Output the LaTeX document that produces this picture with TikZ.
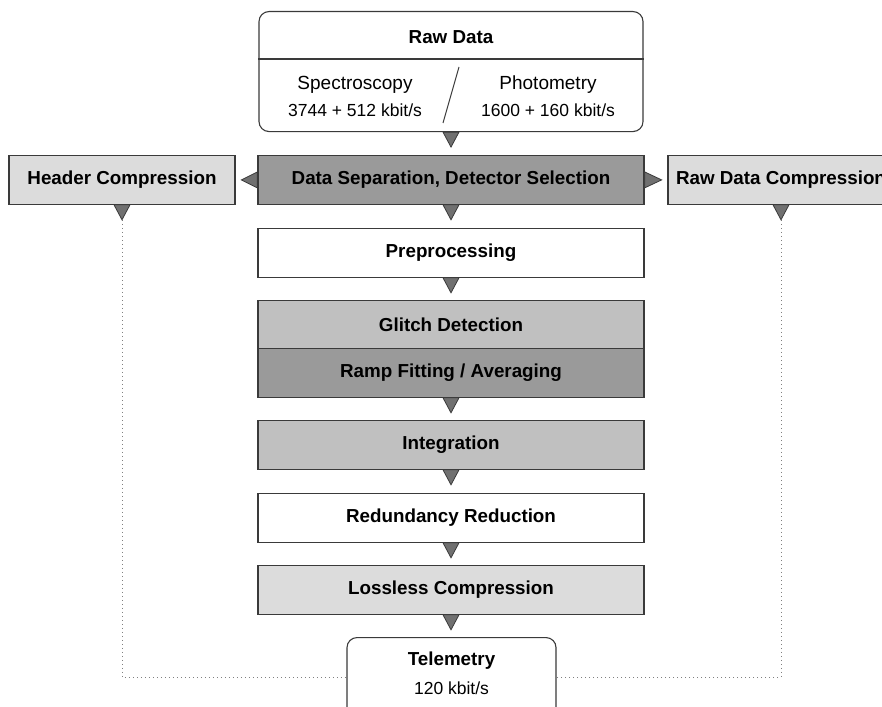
\documentclass[tikz,border=0pt]{standalone}
\usepackage{fontspec}
\setmainfont{Liberation Sans}
\usetikzlibrary{calc}
\definecolor{dk}{HTML}{9A9A9A}
\definecolor{md}{HTML}{C0C0C0}
\definecolor{lt}{HTML}{DCDCDC}
\definecolor{edgec}{HTML}{3A3A3A}
\definecolor{trif}{HTML}{707070}
\definecolor{dotc}{HTML}{808080}
\newcommand\downtri[1]{\filldraw[trishape] ($(#1)+(-8,0)$) -- ($(#1)+(8,0)$) -- ($(#1)+(0,15)$) -- cycle;}
\begin{document}
\begin{tikzpicture}[x=1pt,y=-1pt,
  stepbox/.style={draw=edgec, line width=1.3pt, minimum width=386pt, minimum height=48.5pt,
    inner sep=0pt, anchor=north, font=\bfseries\fontsize{18.8}{20}\selectfont},
  sidebox/.style={stepbox, fill=lt, minimum width=226pt},
  roundbox/.style={draw=edgec, line width=1.1pt, rounded corners=10pt, anchor=north, inner sep=0pt},
  btxt/.style={font=\bfseries\fontsize{18.8}{20}\selectfont, inner sep=0pt},
  ntxt/.style={font=\fontsize{19}{20}\selectfont, inner sep=0pt},
  rtxt/.style={font=\fontsize{17.5}{20}\selectfont, inner sep=0pt},
  trishape/.style={fill=trif, draw=edgec, line width=0.8pt, line join=miter},
  dotline/.style={draw=dotc, line width=1pt, dash pattern=on 1pt off 3pt}]
\useasboundingbox (0,0) rectangle (882,706);

% Raw data box
\node[roundbox, minimum width=384pt, minimum height=120pt] (raw) at (451,11) {};
\draw[draw=edgec, line width=1.1pt] (raw.west |- 0,59) coordinate (dl) -- (raw.east |- 0,59) coordinate (dr);
\node[btxt] (rawt) at (451,37) {Raw Data};
\node[ntxt] (spec) at (355,85) {Spectroscopy};
\node[rtxt] (specr) at (355,110) {3744 + 512 kbit/s};
\node[ntxt] (phot) at (548,85) {Photometry};
\node[rtxt] (photr) at (548,110) {1600 + 160 kbit/s};
\coordinate (sla) at (459,67);
\coordinate (slb) at (443,123);
\draw[draw=edgec, line width=1pt] (sla) -- (slb);

% main chain
\node[stepbox, fill=dk] (sep) at (451,155) {Data Separation, Detector Selection};
\node[stepbox, fill=white] (pre) at (451,228) {Preprocessing};
\node[stepbox, fill=md] (gli) at (451,300) {Glitch Detection};
\node[stepbox, fill=dk] (ramp) at (451,348) {Ramp Fitting / Averaging};
\node[stepbox, fill=md] (int) at (451,420) {Integration};
\node[stepbox, fill=white] (red) at (451,493) {Redundancy Reduction};
\node[stepbox, fill=lt] (loss) at (451,565) {Lossless Compression};

% side boxes
\node[sidebox] (hdr) at (122,155) {Header Compression};
\node[sidebox] (rdc) at (781,155) {Raw Data Compression};

% telemetry
\node[roundbox, fill=white, minimum width=209pt, minimum height=100pt] (tel) at (451.5,637) {};
\node[btxt] (telt) at (451.5,661) {Telemetry};
\node[rtxt] (telr) at (451.5,688) {120 kbit/s};

% dotted lines
\coordinate (hdrtip) at ($(hdr.south)+(0,15)$);
\coordinate (rdctip) at ($(rdc.south)+(0,15)$);
\draw[dotline] (hdrtip) |- (tel.west |- 0,677);
\draw[dotline] (rdctip) |- (tel.east |- 0,677);

% triangles
\downtri{raw.south}
\downtri{sep.south}
\downtri{pre.south}
\downtri{ramp.south}
\downtri{int.south}
\downtri{red.south}
\downtri{loss.south}
\downtri{hdr.south}
\downtri{rdc.south}
\filldraw[trishape] ($(sep.west)+(0,-8)$) -- ($(sep.west)+(0,8)$) -- ($(sep.west)+(-16,0)$) -- cycle;
\filldraw[trishape] ($(sep.east)+(0,-8)$) -- ($(sep.east)+(0,8)$) -- ($(sep.east)+(17,0)$) -- cycle;
\end{tikzpicture}
\end{document}
